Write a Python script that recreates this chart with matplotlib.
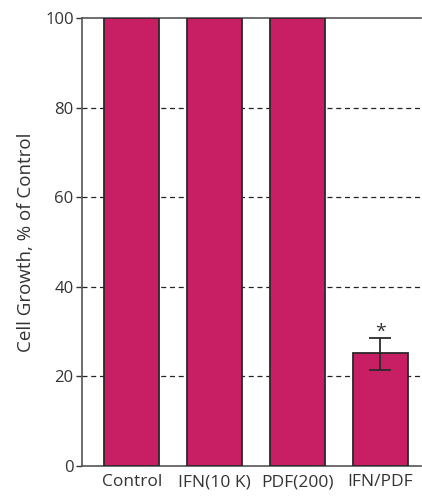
import numpy as np
import matplotlib.pyplot as plt

# -------- DATA --------
groups = ["Control", "IFN(10 K)", "PDF(200)", "IFN/PDF"]
growth = [100, 100, 100, 25.3]
err_low = [0, 0, 0, 3.8]
err_high = [0, 0, 0, 3.3]
yticks = [0, 20, 40, 60, 80, 100]

bar_color = "#C81E63"
ink = "#333333"

plt.rcParams['font.family'] = ['Open Sans', 'DejaVu Sans']

fig = plt.figure(figsize=(4.22, 4.96), dpi=100)
ax = fig.add_axes([0.1943, 0.0605, 0.8033, 0.9032])

x = np.arange(len(groups))
ax.bar(x, growth, width=0.67, color=bar_color, edgecolor="#2a2a2a",
       linewidth=1.3, zorder=3)

# error bar on the combination treatment
i = 3
ax.errorbar(x[i], growth[i], yerr=[[err_low[i]], [err_high[i]]], fmt="none",
            ecolor="#2a2a2a", elinewidth=1.3, capsize=8, capthick=1.3, zorder=4)
ax.text(x[i], growth[i] + err_high[i] - 0.6, "*", ha="center", va="bottom",
        fontsize=14, color=ink)

# dashed grid lines
for yv in yticks[1:-1]:
    ax.axhline(yv, color="#222222", linestyle=(0, (4, 3)), linewidth=0.9, zorder=1)

ax.set_xlim(-0.60, 3.49)
ax.set_ylim(0, 100)
ax.set_yticks(yticks)
ax.set_xticks(x)
ax.set_xticklabels(groups)
ax.tick_params(axis="x", length=0, pad=6, labelsize=12.5, colors=ink)
ax.tick_params(axis="y", length=4, width=1, pad=2, labelsize=12, colors=ink)
ax.set_ylabel("Cell Growth, % of Control", fontsize=13.5, color=ink, labelpad=7)

ax.spines["right"].set_visible(False)
for s in ["left", "bottom", "top"]:
    ax.spines[s].set_color("#555555")
    ax.spines[s].set_linewidth(1.2)

fig.savefig("out.png", dpi=100)
